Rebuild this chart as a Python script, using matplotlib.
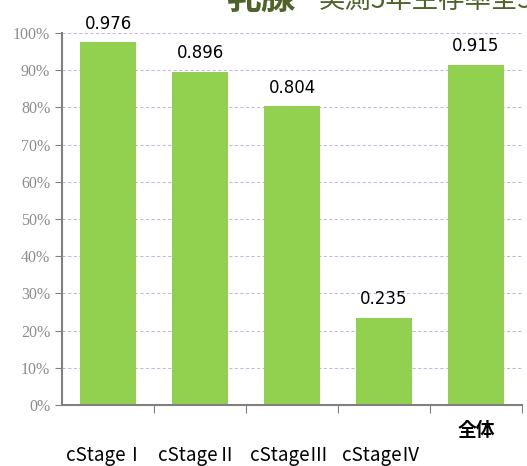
import matplotlib.pyplot as plt
from matplotlib.ticker import FuncFormatter

plt.rcParams['font.family'] = ['Noto Sans CJK JP', 'DejaVu Sans']

stage_labels = ["cStageⅠ", "cStageⅡ", "cStageⅢ", "cStageⅣ"]
total_label = "全体"
values = [0.976, 0.896, 0.804, 0.235, 0.915]
value_texts = ["0.976", "0.896", "0.804", "0.235", "0.915"]
y_ticks = [0.0, 0.1, 0.2, 0.3, 0.4, 0.5, 0.6, 0.7, 0.8, 0.9, 1.0]

W, H = 527, 466
fig = plt.figure(figsize=(W / 100, H / 100), dpi=100)
ax = fig.add_axes([62 / W, 1 - 405 / H, 460 / W, (405 - 33) / H])

x = list(range(len(values)))
ax.bar(x, values, width=0.6, color="#92D050", zorder=2)
for xi, v, t in zip(x, values, value_texts):
    ax.text(xi, v + 0.025, t, ha="center", va="bottom", fontsize=12,
            family=["DejaVu Sans"], color="black")

ax.set_xlim(-0.5, 4.5)
ax.set_ylim(0, 1.0)
ax.set_yticks(y_ticks)
ax.yaxis.set_major_formatter(FuncFormatter(lambda v, p: f"{v * 100:.0f}%"))
for lab in ax.get_yticklabels():
    lab.set_family(["Liberation Serif"])
    lab.set_fontsize(11.5)
    lab.set_color("#8c8c8c")
ax.grid(axis="y", color="#c9b8e0", linestyle=(0, (3, 2)), linewidth=0.8, zorder=0)

ax.set_xticks([0.5, 1.5, 2.5, 3.5, 4.5])
ax.set_xticklabels([])
ax.tick_params(axis="x", direction="out", length=6, color="#808080")
ax.tick_params(axis="y", direction="out", length=5, color="#808080")

for side in ["top", "right"]:
    ax.spines[side].set_visible(False)
for side in ["left", "bottom"]:
    ax.spines[side].set_color("#808080")
    ax.spines[side].set_linewidth(1.5)

# category labels: stages on a lower row, total directly under its bar
for xi, lab in enumerate(stage_labels):
    ax.annotate(lab, xy=(xi, 0), xycoords=("data", "axes fraction"),
                xytext=(-2, -36), textcoords="offset points",
                ha="center", va="center", fontsize=13.5,
                family=["Noto Sans CJK JP"])
ax.annotate(total_label, xy=(4, 0), xycoords=("data", "axes fraction"),
            xytext=(0, -18), textcoords="offset points",
            ha="center", va="center", fontsize=13.5, fontweight="bold")

# title, partly cut off at the top edge as in the source image
fig.text(226 / W, 1 + 2 / H, "乳腺", fontsize=25, fontweight="bold",
         color="#4F6228", ha="left", va="center")
fig.text(319 / W, 1 + 0 / H, "実測5年生存率全3Stage", fontsize=19,
         color="#4F6228", ha="left", va="center")

fig.savefig("out.png", dpi=100)
